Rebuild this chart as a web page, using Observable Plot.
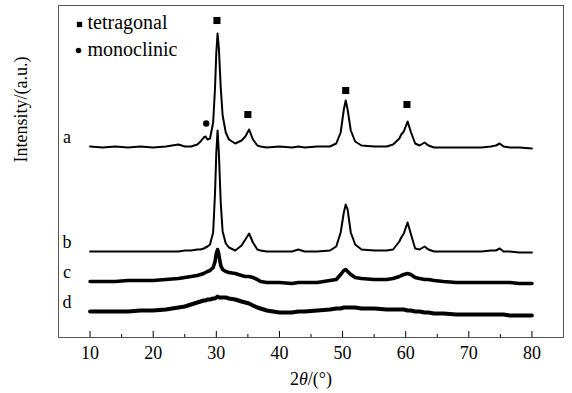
<!DOCTYPE html>
<html><head><meta charset="utf-8">
<script src="https://cdn.jsdelivr.net/npm/d3@7"></script>
<script src="https://cdn.jsdelivr.net/npm/@observablehq/plot@0.6"></script>
<style>body{margin:0;background:#fff} svg{display:block} svg text{font-family:'Liberation Serif','Times New Roman',serif !important}</style>
</head><body><div id="chart"></div>
<script>
// 2θ grid (degrees) shared by all four patterns
const twoTheta = [10,12,14,16,18,20,22,24,25,26,27,27.5,28,28.3,28.6,29,29.5,29.8,30.0,30.2,30.4,30.7,31,31.5,32,33,34,34.6,35.2,35.8,36.5,37,38,40,42,43,44,46,48,49,49.7,50.2,50.5,50.8,51.3,52,53,55,57,58,59,59.3,59.7,60.3,60.8,61.5,62.2,63,63.6,64.5,66,68,70,72,73.5,74.3,74.9,75.5,76.5,78,80];
// intensities (arbitrary units, offset patterns)
const seriesA = [191,190,191,190,191,190,191,193,191,191,193,196,200,201,198,199,215,250,285,304,290,250,222,205,198,194,197,201,208,198,192,191,190,191,190,191,190,191,191,194,205,228,237,228,207,196,192,191,191,193,199,203,206,216,206,194,192,195,192,190,190,190,190,190,191,192,194,191,190,190,189];
const seriesB = [86,86,86,86,86,86,86,86,87,87,88,88,89,90,91,93,105,145,185,207,185,135,106,94,90,87,92,98,104,95,88,87,86,86,86,88,86,86,87,91,105,125,133,128,105,93,88,87,87,88,96,100,104,115,104,89,88,91,88,86,86,86,86,86,87,87,89,86,86,85,85];
const seriesC = [56,56,56,57,57,57,58,59,60,61,62,63,64,65,66,67,70,76,84,88,83,72,68,66,65,64,62,61,61,60,58,56,55,55,54,55,55,55,57,58,63,67,68,66,63,60,59,58,58,59,61,62,63,64,63,60,59,58,58,57,56,55,55,55,55,55,55,55,55,54,54];
const seriesD = [26,26,26,26,27,27,28,30,31,33,35,36,37,37,38,38,39,39,40,41,40,40,40,40,39,38,36,35,34,32,30,29,27,25,25,26,26,27,28,29,29,30,30,30,30,30,29,29,28,28,28,28,28,27,27,26,26,25,25,24,24,23,23,23,23,23,23,23,22,22,22];
const seriesNames = ["a","b","c","d"];
// phase markers
const tetraX = [30.1, 35.0, 50.5, 60.2];
const tetraY = [317, 223, 247, 233];
const monoX = [28.4];
const monoY = [214];
// axis ticks
const majorTicks = [10,20,30,40,50,60,70,80];
const minorTicks = [15,25,35,45,55,65,75];
const legendLabels = ["tetragonal","monoclinic"];

const allSeries = [seriesA, seriesB, seriesC, seriesD];
const widths = [2, 2, 3.6, 4];
const rows = s => twoTheta.map((x,i)=>({x, y: allSeries[s][i]}));
const labelRows = seriesNames.map((n,s)=>({n, x: twoTheta[0], y: allSeries[s][0]}));

const W=572, H=393, mT=5, mB=56, mL=58, mR=9;
const innerH = H - mT - mB;
const font = "Liberation Serif, Times New Roman, serif";

const plot = Plot.plot({
  width: W, height: H, marginTop: mT, marginBottom: mB, marginLeft: mL, marginRight: mR,
  style: {fontFamily: font, fontSize: "18px", background: "#fff", color: "#000"},
  x: {domain: [5, 85]},
  y: {domain: [0, innerH], axis: null},
  marks: [
    Plot.frame({stroke: "#555", strokeWidth: 1}),
    Plot.tickX(majorTicks, {x: d=>d, insetTop: innerH-6, stroke: "#000"}),
    Plot.tickX(minorTicks, {x: d=>d, insetTop: innerH-3, stroke: "#000"}),
    Plot.axisX({ticks: majorTicks, tickSize: 0, tickPadding: 9, fontSize: 18, fontFamily: font, label: null, tickFormat: d=>String(d)}),
    ...allSeries.map((_,s)=>Plot.line(rows(s), {x:"x", y:"y", stroke:"#000", strokeWidth: widths[s], strokeLinejoin:"round"})),
    Plot.text(labelRows, {x:"x", y:"y", text:"n", dx:-23, dy:-4, lineAnchor:"bottom", fontSize: 18, fontFamily: font}),
    Plot.dot(tetraX.map((x,i)=>({x, y: tetraY[i]})), {x:"x", y:"y", symbol:"square", r:4, fill:"#000", stroke:null}),
    Plot.dot(monoX.map((x,i)=>({x, y: monoY[i]})), {x:"x", y:"y", symbol:"circle", r:3.2, fill:"#000", stroke:null}),
    Plot.dot([legendLabels[0]], {frameAnchor:"top-left", dx:21, dy:19, symbol:"square", r:3, fill:"#000", stroke:null}),
    Plot.dot([legendLabels[1]], {frameAnchor:"top-left", dx:20, dy:45, symbol:"circle", r:2.8, fill:"#000", stroke:null}),
    Plot.text([legendLabels[0]], {text:d=>d, frameAnchor:"top-left", dx:29, dy:23, textAnchor:"start", lineAnchor:"bottom", fontSize:20, fontFamily: font}),
    Plot.text([legendLabels[1]], {text:d=>d, frameAnchor:"top-left", dx:29, dy:50, textAnchor:"start", lineAnchor:"bottom", fontSize:20, fontFamily: font}),
    Plot.text(["Intensity/(a.u.)"], {text:d=>d, frameAnchor:"left", rotate:-90, dx:-37, dy:-9, fontSize:18, fontFamily: font}),
    Plot.text(["2θ/(°)"], {text:d=>d, frameAnchor:"bottom", dy:47, lineAnchor:"bottom", fontSize:18, fontFamily: font})
  ]
});
d3.select(plot).selectAll("text").filter(function(){ return this.textContent === "2θ/(°)"; })
  .each(function(){
    const t = d3.select(this);
    t.text("");
    t.append("tspan").text("2");
    t.append("tspan").attr("font-style","italic").text("θ");
    t.append("tspan").text("/(°)");
  });
document.getElementById("chart").appendChild(plot);
</script>
</body></html>
